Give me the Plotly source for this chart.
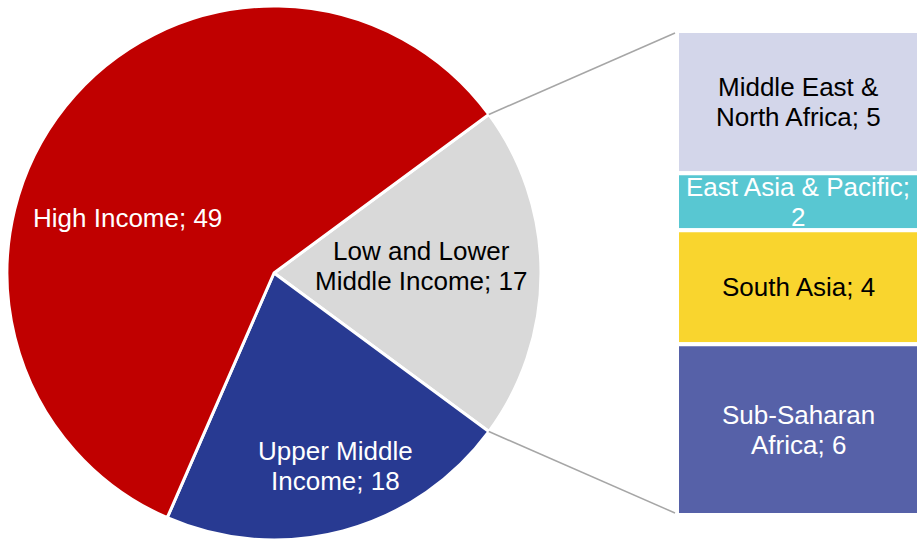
import numpy as np
import plotly.graph_objects as go

W, H = 919, 540
FONT = "Liberation Sans, Arial, sans-serif"
FS = 26
LINE = 30

# ---------------- data ----------------
pie_labels = ["Low and Lower Middle Income", "Upper Middle Income", "High Income"]
pie_values = [17, 18, 49]
pie_colors = ["#D9D9D9", "#283A92", "#C00000"]
pie_text_lines = [["Low and Lower", "Middle Income; 17"],
                  ["Upper Middle", "Income; 18"],
                  ["High Income; 49"]]
pie_text_colors = ["#000000", "#FFFFFF", "#FFFFFF"]

bar_labels = ["Middle East & North Africa", "East Asia & Pacific", "South Asia", "Sub-Saharan Africa"]
bar_values = [5, 2, 4, 6]
bar_colors = ["#D3D6EA", "#58C7D2", "#F9D52E", "#5661A8"]
bar_text_lines = [["Middle East &", "North Africa; 5"],
                  ["East Asia & Pacific;", "2"],
                  ["South Asia; 4"],
                  ["Sub-Saharan", "Africa; 6"]]
bar_text_colors = ["#000000", "#FFFFFF", "#000000", "#FFFFFF"]

# ---------------- layout constants (pixels) ----------------
PIE_L, PIE_R, PIE_T, PIE_B = 7, 541, 6, 540
BAR_L, BAR_R, BAR_T, BAR_B = 677, 919, 31, 515
# label anchor points inside the pie (pixels)
PIE_LABEL_XY = [(421, 266), (335, 466), (127, 218)]

total = sum(pie_values)
first_span = pie_values[0] / total * 360.0
rotation = 90 - first_span / 2  # centre the first slice on 3 o'clock

fig = go.Figure()

fig.add_trace(go.Pie(
    labels=pie_labels, values=pie_values, sort=False, direction="clockwise",
    rotation=rotation, textinfo="none", hoverinfo="label+value",
    marker=dict(colors=pie_colors, line=dict(color="white", width=3)),
    domain=dict(x=[PIE_L / W, PIE_R / W], y=[1 - PIE_B / H, 1 - PIE_T / H]),
    showlegend=False,
))

bases = list(np.cumsum([0] + bar_values[:-1]))
fig.add_trace(go.Bar(
    x=[0] * len(bar_values), y=bar_values, base=bases, width=1,
    marker=dict(color=bar_colors, line=dict(color="white", width=4)),
    xaxis="x2", yaxis="y2", hovertext=bar_labels, hoverinfo="text+y",
    showlegend=False,
))

annotations = []

def add_lines(lines, color, **pos):
    n = len(lines)
    for i, t in enumerate(lines):
        shift = ((n - 1) / 2 - i) * LINE
        annotations.append(dict(text=t, showarrow=False, xanchor="center", yanchor="middle",
                                yshift=shift, font=dict(family=FONT, size=FS, color=color), **pos))

for (px, py), lines, c in zip(PIE_LABEL_XY, pie_text_lines, pie_text_colors):
    add_lines(lines, c, xref="paper", yref="paper", x=px / W, y=1 - py / H)

for b, v, lines, c in zip(bases, bar_values, bar_text_lines, bar_text_colors):
    add_lines(lines, c, xref="x2", yref="y2", x=0, y=b + v / 2)

# connector lines from slice edges to the bar
cx, cy = (PIE_L + PIE_R) / 2, (PIE_T + PIE_B) / 2
R = min(PIE_R - PIE_L, PIE_B - PIE_T) / 2
shapes = []
for ang, by in [(rotation, BAR_T + 2), (rotation + first_span, BAR_B - 2)]:
    a = np.deg2rad(ang)
    sx, sy = cx + R * np.sin(a), cy - R * np.cos(a)
    shapes.append(dict(type="line", xref="paper", yref="paper",
                       x0=sx / W, y0=1 - sy / H, x1=(BAR_L - 2) / W, y1=1 - by / H,
                       line=dict(color="#A6A6A6", width=1.5)))

fig.update_layout(
    width=W, height=H, margin=dict(l=0, r=0, t=0, b=0),
    paper_bgcolor="white", plot_bgcolor="white",
    barmode="overlay",
    xaxis2=dict(domain=[BAR_L / W, BAR_R / W], range=[-0.5, 0.5], visible=False,
                anchor="y2", fixedrange=True),
    yaxis2=dict(domain=[1 - BAR_B / H, 1 - BAR_T / H], range=[sum(bar_values), 0],
                visible=False, anchor="x2", fixedrange=True),
    xaxis=dict(visible=False), yaxis=dict(visible=False),
    annotations=annotations, shapes=shapes,
    font=dict(family=FONT),
)

fig.write_html("out.html")
